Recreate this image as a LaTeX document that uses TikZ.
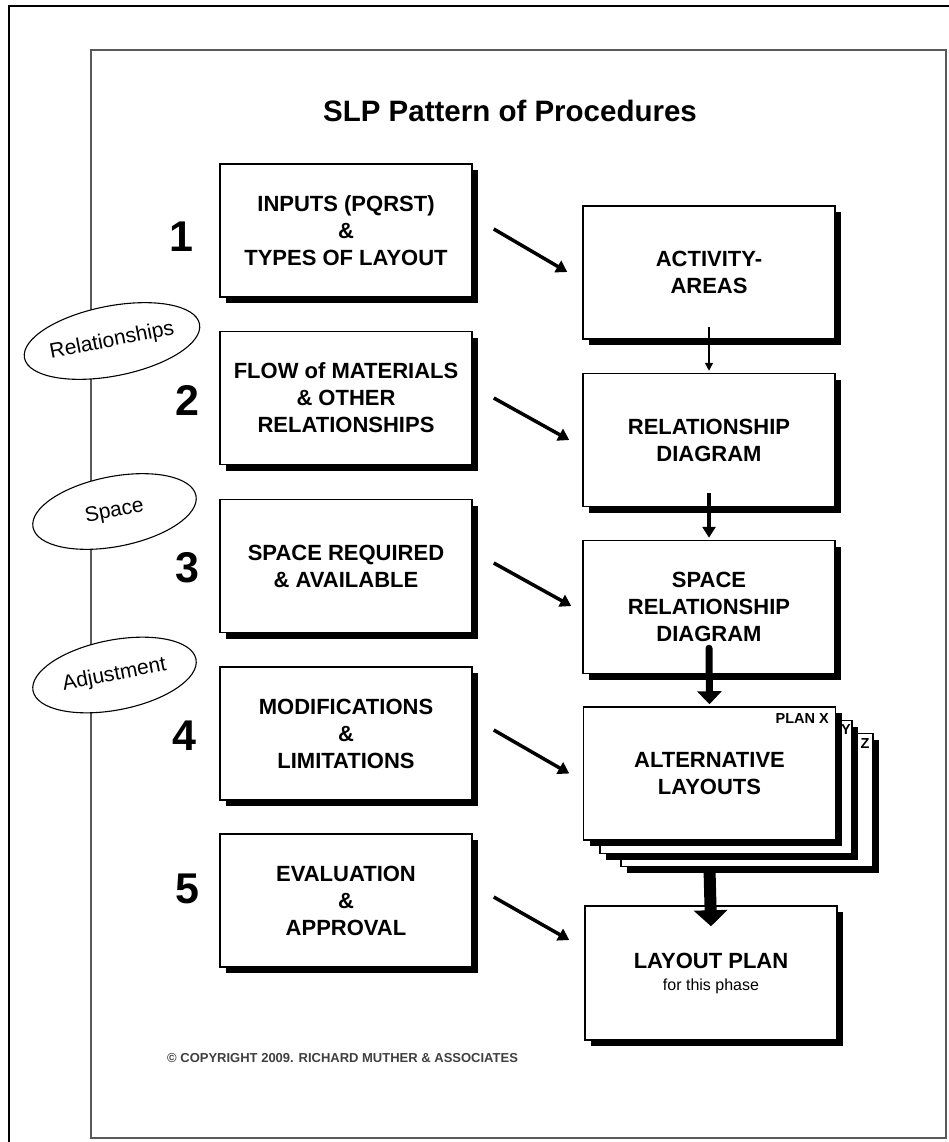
\documentclass[tikz,border=0pt]{standalone}
\usepackage{fontspec}
\setmainfont{Liberation Sans}
\usetikzlibrary{arrows.meta,shapes.geometric,shadows}
\begin{document}
\begin{tikzpicture}[x=1pt,y=-1pt,
  box/.style={draw, line width=1.5pt, fill=white, minimum width=252pt, minimum height=133pt,
    inner sep=0pt, align=center, font=\fontsize{22}{27}\selectfont\bfseries,
    drop shadow={shadow xshift=6pt, shadow yshift=-6pt, opacity=1, fill=black}},
  sheet/.style={box, minimum height=133pt},
  num/.style={font=\fontsize{43}{43}\selectfont\bfseries},
  oval/.style={ellipse, draw, line width=1.1pt, fill=white, minimum width=166pt, minimum height=70pt,
    inner sep=0pt, rotate=11, font=\fontsize{21}{21}\selectfont},
  diag/.style={line width=3.5pt, -{Triangle[length=11pt,width=13pt]}},
  vthin/.style={line width=1.5pt, -{Triangle[length=8pt,width=8pt]}},
  vmed/.style={line width=3.5pt, -{Triangle[length=11pt,width=13pt]}},
  vthick/.style={line width=7pt, -{Triangle[length=13pt,width=24pt]}},
  vheavy/.style={line width=12pt, -{Triangle[length=16pt,width=33pt]}},
  frameline/.style={draw=black!65, line width=2pt},
  plan/.style={inner sep=0pt, font=\fontsize{14.5}{14.5}\selectfont\bfseries}
]
\useasboundingbox (0,0) rectangle (949,1142);
\clip (0,0) rectangle (949,1142);
\fill[white] (0,0) rectangle (949,1142);
% frames
\draw[line width=2pt] (9,1160) -- (9,6) -- (970,6);
\draw[frameline] (91,50) rectangle (946,1138);

% title
\node[font=\fontsize{29.5}{29.5}\selectfont\bfseries] (title) at (510,111) {SLP Pattern of Procedures};

% left boxes
\node[box] (b1) at (346,230.5) {INPUTS (PQRST)\\\&\\TYPES OF LAYOUT};
\node[box] (b2) at (346,398) {FLOW of MATERIALS\\\& OTHER\\RELATIONSHIPS};
\node[box] (b3) at (346,566) {SPACE REQUIRED\\\& AVAILABLE};
\node[box] (b4) at (346,733.5) {MODIFICATIONS\\\&\\LIMITATIONS};
\node[box] (b5) at (346,900.5) {EVALUATION\\\&\\APPROVAL};

% numbers
\node[num] (n1) at (181,237) {1};
\node[num] (n2) at (187,400) {2};
\node[num] (n3) at (187,568) {3};
\node[num] (n4) at (184,736) {4};
\node[num] (n5) at (187,889) {5};

% ovals
\node[oval] (e1) at (112,341) {Relationships};
\node[oval] (e2) at (114.5,511.5) {Space};
\node[oval] (e3) at (114.5,675) {Adjustment};

% right boxes
\node[box] (r1) at (709,272.5) {ACTIVITY-\\AREAS};
\node[box] (r2) at (709,440) {RELATIONSHIP\\DIAGRAM};
\node[box] (r3) at (709,607) {SPACE\\RELATIONSHIP\\DIAGRAM};
\node[sheet] (s3) at (747,800) {};
\node[sheet] (s2) at (726,787) {};
\node[box] (r4) at (709.5,773.5) {ALTERNATIVE\\LAYOUTS};
\node[box, minimum height=134pt] (r5) at (711,973) {LAYOUT PLAN\\[-5pt]{\fontsize{16}{18}\selectfont\mdseries for this phase}};

% sheet labels
\node[plan, anchor=east] (px) at (829,719) {PLAN X};
\node[plan] (py) at (846,730) {Y};
\node[plan] (pz) at (865,744) {Z};

% diagonal arrows
\draw[diag] ([shift={(21,-1.5)}]b1.east) -- ([shift={(-15,-0.5)}]r1.west);
\draw[diag] ([shift={(21,0)}]b2.east) -- ([shift={(-13,0)}]r2.west);
\draw[diag] ([shift={(21,-3)}]b3.east) -- ([shift={(-11,-1)}]r3.west);
\draw[diag] ([shift={(21,-3.5)}]b4.east) -- ([shift={(-13.5,0)}]r4.west);
\draw[diag] ([shift={(21,-3.5)}]b5.east) -- ([shift={(-15,-33)}]r5.west);

% vertical arrows
\draw[vthin] ([shift={(0,-13)}]r1.south) -- ([shift={(0,-2)}]r2.north);
\draw[vmed] ([shift={(0,-14)}]r2.south) -- ([shift={(0,-2)}]r3.north);
\draw[vthick, line cap=round] ([shift={(0,-26)}]r3.south) -- ([shift={(0,-2)}]r4.north);
\draw[vheavy] ([shift={(0,28)}]r4.south) -- ([shift={(0,21)}]r5.north);

% copyright
\node[anchor=west, inner sep=0pt, text=black!75, font=\fontsize{13}{13}\selectfont\bfseries] (copy) at (167,1058) {\textcopyright{} COPYRIGHT 2009. RICHARD MUTHER \& ASSOCIATES};
\end{tikzpicture}
\end{document}
